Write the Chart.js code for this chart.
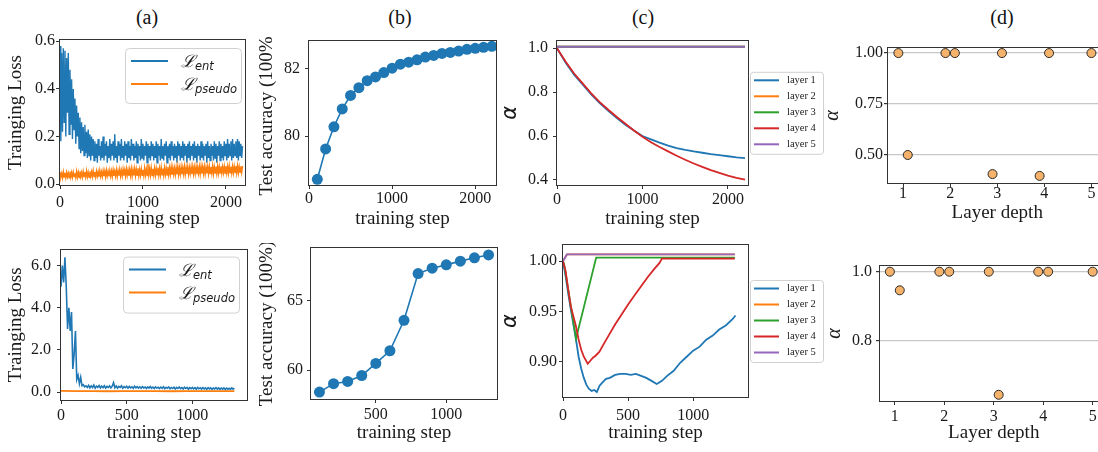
<!DOCTYPE html>
<html><head><meta charset="utf-8">
<script src="https://cdn.jsdelivr.net/npm/chart.js@4"></script>
<style>
html,body{margin:0;padding:0;background:#fff;overflow:hidden;width:1098px;height:452px;}
#wrap{position:relative;width:1098px;height:452px;overflow:hidden;background:#fff;}
.ptitle{position:absolute;font:20px "Liberation Serif",serif;color:#111;transform:translate(-50%,-50%);white-space:nowrap;}
canvas{position:absolute;}
</style></head><body><div id="wrap">
<div class="ptitle" style="left:147px;top:17px">(a)</div>
<div class="ptitle" style="left:400px;top:17px">(b)</div>
<div class="ptitle" style="left:643px;top:17px">(c)</div>
<div class="ptitle" style="left:1002px;top:17px">(d)</div>
</div>
<script>
// ===================== DATA =====================
// (a) training loss, top run: one value every lossStepTop steps
const lossStepTop = 10;
const entTop = [0.58,0.18,0.55,0.22,0.57,0.26,0.56,0.20,0.53,0.30,0.55,
0.21,0.48,0.25,0.44,0.19,0.40,0.23,0.36,0.17,0.33,0.20,0.30,0.15,0.28,0.13,
0.26,0.14,0.24,0.12,0.25,0.13,0.22,0.11,0.23,0.12,0.21,0.10,0.20,0.12,0.19,
0.10,0.18,0.11,0.17,0.09,0.19,0.12,0.16,0.10,0.18,
0.11,0.20,0.10,0.17,0.12,0.18,0.09,0.16,0.11,0.19,
0.10,0.17,0.12,0.18,0.10,0.21,0.11,0.16,0.09,0.18,
0.12,0.17,0.10,0.19,0.11,0.16,0.10,0.18,0.12,0.17,
0.09,0.18,0.11,0.16,0.10,0.19,0.12,0.17,0.10,0.16,
0.11,0.18,0.09,0.17,0.12,0.16,0.10,0.19,0.11,0.17,
0.10,0.16,0.12,0.18,0.09,0.17,0.11,0.16,0.10,0.18,
0.12,0.17,0.10,0.16,0.11,0.18,0.09,0.17,0.12,0.16,
0.10,0.19,0.11,0.16,0.10,0.17,0.12,0.18,0.09,0.16,
0.11,0.17,0.10,0.18,0.12,0.16,0.10,0.17,0.11,0.16,
0.09,0.18,0.12,0.17,0.10,0.16,0.11,0.18,0.10,0.17,
0.12,0.16,0.09,0.17,0.11,0.18,0.10,0.16,0.12,0.17,
0.10,0.18,0.11,0.16,0.09,0.17,0.12,0.16,0.10,0.18,
0.11,0.17,0.10,0.16,0.12,0.17,0.09,0.18,0.11,0.16,
0.10,0.17,0.12,0.16,0.10,0.18,0.11,0.17,0.09,0.16,
0.12,0.18,0.10,0.17,0.11,0.16,0.10,0.18,0.12,0.17,
0.10,0.19,0.11,0.17,0.12,0.18,0.10,0.19,0.11,0.17,
0.12,0.18,0.11,0.19,0.10,0.18,0.12,0.17,0.11,0.16];
const pseudoTop = [0.05,0.03,0.045,0.026,0.052,0.03,0.048,0.028,0.05,0.031,
0.047,0.027,0.053,0.03,0.049,0.029,0.051,0.032,0.046,0.028,
0.054,0.03,0.05,0.028,0.055,0.031,0.049,0.029,0.053,0.032,
0.051,0.03,0.056,0.031,0.05,0.029,0.054,0.033,0.052,0.031,
0.057,0.032,0.051,0.03,0.055,0.034,0.053,0.031,0.058,0.033,
0.052,0.032,0.057,0.034,0.055,0.031,0.059,0.035,0.054,0.033,
0.058,0.034,0.056,0.032,0.06,0.035,0.055,0.034,0.061,0.033,
0.057,0.036,0.062,0.034,0.058,0.035,0.063,0.036,0.059,0.034,
0.064,0.037,0.06,0.035,0.062,0.036,0.065,0.034,0.061,0.037,
0.066,0.036,0.063,0.038,0.067,0.035,0.062,0.037,0.065,0.038,
0.06,0.036,0.068,0.038,0.064,0.037,0.085,0.039,0.066,0.038,
0.069,0.037,0.065,0.039,0.068,0.038,0.066,0.04,0.07,0.038,
0.067,0.039,0.071,0.04,0.066,0.038,0.07,0.041,0.068,0.039,
0.072,0.04,0.069,0.041,0.073,0.039,0.07,0.042,0.068,0.04,
0.071,0.041,0.074,0.04,0.069,0.042,0.073,0.041,0.07,0.043,
0.075,0.041,0.071,0.043,0.074,0.042,0.07,0.044,0.073,0.042,
0.074,0.043,0.072,0.044,0.075,0.042,0.071,0.045,0.074,0.043,
0.076,0.044,0.073,0.045,0.075,0.043,0.072,0.046,0.074,0.044,
0.075,0.045,0.073,0.046,0.077,0.044,0.073,0.047,0.075,0.045,
0.076,0.045,0.074,0.047,0.076,0.046,0.073,0.048,0.075,0.046,
0.077,0.047,0.074,0.046,0.078,0.048,0.074,0.047,0.076,0.048,
0.075,0.049,0.077,0.047,0.078,0.048,0.074,0.05,0.076,0.049,
0.076];
// (a) training loss, bottom run
const lossStepBottom = 10;
const entBottom = [5.0,6.0,5.2,6.4,5.0,3.0,4.0,2.9,3.8,1.1,1.8,2.9,0.6,0.8,0.4,0.7,0.3,0.35,0.25,0.3,0.22,
0.32,0.2,0.3,0.22,0.33,0.19,0.28,0.23,0.31,0.2,
0.29,0.21,0.3,0.19,0.27,0.22,0.3,0.2,0.28,0.45,
0.21,0.29,0.19,0.27,0.22,0.3,0.18,0.26,0.21,0.28,
0.19,0.27,0.2,0.25,0.18,0.28,0.2,0.26,0.19,0.25,
0.18,0.26,0.2,0.24,0.17,0.25,0.19,0.26,0.18,0.24,
0.17,0.25,0.19,0.23,0.17,0.24,0.18,0.25,0.16,0.23,
0.18,0.24,0.16,0.22,0.17,0.23,0.15,0.22,0.17,0.24,
0.16,0.21,0.15,0.23,0.17,0.22,0.14,0.21,0.16,0.22,
0.15,0.21,0.14,0.22,0.16,0.2,0.14,0.21,0.15,0.2,
0.13,0.21,0.15,0.2,0.13,0.19,0.15,0.21,0.14,0.2,
0.13,0.19,0.14,0.2,0.12,0.19,0.14,0.18,0.13,0.2,
0.14,0.19];
const pseudoStepBottom = 120;
const pseudoBottom = [0.06,0.05,0.05,0.04,0.05,0.05,0.05,0.04,0.05,0.05,0.05,0.05];
const lossLegendSubs = ['ent','pseudo'];

// (b) test accuracy
const accStepsTop = [100,200,300,400,500,600,700,800,900,1000,1100,1200,1300,1400,1500,1600,1700,1800,1900,2000,2100,2200];
const accTop = [78.72,79.62,80.28,80.81,81.21,81.44,81.65,81.76,81.89,82.02,82.14,82.20,82.27,82.35,82.40,82.46,82.49,82.53,82.58,82.61,82.64,82.67];
const accStepsBottom = [100,200,300,400,500,600,700,800,900,1000,1100,1200,1300];
const accBottom = [58.41,59.02,59.18,59.61,60.48,61.40,63.60,66.98,67.37,67.61,67.88,68.12,68.33];

// (c) alpha per layer, top run
const layerNames = ['layer 1','layer 2','layer 3','layer 4','layer 5'];
const alphaStepsTop = [0,100,200,300,400,500,600,700,800,900,1000,1100,1200,1300,1400,1500,1600,1700,1800,1900,2000,2100,2200];
const alphaTopL1 = [1.0,0.935,0.88,0.835,0.79,0.75,0.715,0.682,0.652,0.625,0.60,0.585,0.57,0.556,0.545,0.537,0.53,0.524,0.518,0.513,0.508,0.503,0.499];
const alphaTopL4 = [1.0,0.94,0.885,0.84,0.795,0.755,0.72,0.687,0.656,0.625,0.597,0.572,0.55,0.53,0.51,0.492,0.475,0.46,0.445,0.432,0.42,0.41,0.402];
const alphaTopFlatSteps = [0,2200];
const alphaTopL2 = [1.007,1.007];
const alphaTopL3 = [1.007,1.007];
const alphaTopL5 = [1.007,1.007];

// (c) alpha per layer, bottom run
const alphaBotStepsL1 = [0,20,40,60,80,100,120,140,160,180,200,220,240,260,280,300,330,360,400,440,480,520,560,600,640,680,720,760,800,850,900,950,1000,1050,1100,1150,1200,1250,1300,1325];
const alphaBotL1 = [1.0,0.985,0.968,0.952,0.937,0.922,0.905,0.893,0.884,0.877,0.873,0.871,0.872,0.870,0.876,0.879,0.883,0.884,0.887,0.888,0.888,0.887,0.888,0.886,0.884,0.881,0.878,0.881,0.886,0.891,0.899,0.905,0.911,0.915,0.922,0.926,0.932,0.936,0.942,0.946];
const alphaBotStepsL2 = [0,30,1320];
const alphaBotL2 = [1.0,1.0066,1.0066];
const alphaBotStepsL3 = [0,10,100,255,1320];
const alphaBotL3 = [1.0,0.996,0.923,1.0035,1.0035];
const alphaBotStepsL4 = [0,20,40,60,80,100,120,140,160,190,210,230,250,280,310,350,400,450,500,550,600,650,700,740,760,1320];
const alphaBotL4 = [1.0,0.99,0.972,0.955,0.945,0.935,0.922,0.912,0.905,0.898,0.901,0.904,0.906,0.910,0.917,0.926,0.937,0.947,0.957,0.966,0.975,0.984,0.992,0.998,1.0025,1.0025];
const alphaBotStepsL5 = [0,30,1320];
const alphaBotL5 = [1.0,1.0066,1.0066];

// (d) final alpha versus layer depth
const depthTop = [0.9,1.1,1.9,2.1,2.9,3.1,3.9,4.1,5.0];
const alphaDepthTop = [1.0,0.498,1.0,1.0,0.404,1.0,0.395,1.0,1.0];
const depthBottom = [0.9,1.1,1.9,2.1,2.9,3.1,3.9,4.1,5.0];
const alphaDepthBottom = [1.0,0.946,1.0,1.0,1.0,0.643,1.0,1.0,1.0];

// tick values and labels
const ticksA1x = [0,1000,2000], labA1x = ['0','1000','2000'];
const ticksA1y = [0,0.2,0.4,0.6], labA1y = ['0.0','0.2','0.4','0.6'];
const ticksA2x = [0,500,1000], labA2x = ['0','500','1000'];
const ticksA2y = [0,2,4,6], labA2y = ['0.0','2.0','4.0','6.0'];
const ticksB1x = [0,1000,2000], labB1x = ['0','1000','2000'];
const ticksB1y = [80,82], labB1y = ['80','82'];
const ticksB2x = [500,1000], labB2x = ['500','1000'];
const ticksB2y = [60,65], labB2y = ['60','65'];
const ticksC1x = [0,1000,2000], labC1x = ['0','1000','2000'];
const ticksC1y = [0.4,0.6,0.8,1.0], labC1y = ['0.4','0.6','0.8','1.0'];
const ticksC2x = [0,500,1000], labC2x = ['0','500','1000'];
const ticksC2y = [0.90,0.95,1.00], labC2y = ['0.90','0.95','1.00'];
const ticksD1x = [1,2,3,4,5], labD1x = ['1','2','3','4','5'];
const ticksD1y = [0.5,0.75,1.0], labD1y = ['0.50','0.75','1.00'];
const ticksD2x = [1,2,3,4,5], labD2x = ['1','2','3','4','5'];
const ticksD2y = [0.8,1.0], labD2y = ['0.8','1.0'];

// ===================== DRAWING =====================
const SERIF = '"Liberation Serif","Times New Roman",serif';
const INK = '#1a1a1a';
const COL = ['#1f77b4','#ff7f0e','#2ca02c','#d62728','#9467bd'];
const TICKF = {family: SERIF, size: 16};
const LABF = {family: SERIF, size: 19};
const ALPHA_SANS = {family: '"DejaVu Sans",sans-serif', size: 21, style: 'italic'};
const ALPHA_SERIF = {family: SERIF, size: 20, style: 'italic'};
const wrap = document.getElementById('wrap');

const pts = (xs, ys) => ys.map((y, i) => ({x: xs[i], y}));
const stepPts = (step, ys) => ys.map((y, i) => ({x: i * step, y}));

const framePlugin = {
  id: 'frame',
  afterDatasetsDraw(chart) {
    const a = chart.chartArea, c = chart.ctx;
    c.save(); c.strokeStyle = '#333'; c.lineWidth = 1;
    c.strokeRect(Math.round(a.left) - 0.5, Math.round(a.top) - 0.5,
                 Math.round(a.right - a.left) + 1, Math.round(a.bottom - a.top) + 1);
    c.restore();
  }
};

function rrect(c, x, y, w, h, r) {
  c.beginPath();
  c.moveTo(x + r, y); c.lineTo(x + w - r, y); c.quadraticCurveTo(x + w, y, x + w, y + r);
  c.lineTo(x + w, y + h - r); c.quadraticCurveTo(x + w, y + h, x + w - r, y + h);
  c.lineTo(x + r, y + h); c.quadraticCurveTo(x, y + h, x, y + h - r);
  c.lineTo(x, y + r); c.quadraticCurveTo(x, y, x + r, y); c.closePath();
}

function lossLegend(offR, offT, w, h) {
  return { id: 'lossLegend', afterDraw(chart) {
    const a = chart.chartArea, c = chart.ctx;
    const x = a.right - offR - w, y = a.top + offT;
    c.save();
    rrect(c, x + 0.5, y + 0.5, w, h, 4);
    c.fillStyle = 'rgba(255,255,255,0.85)'; c.fill();
    c.strokeStyle = '#d0d0d0'; c.lineWidth = 1; c.stroke();
    const rows = [y + 13, y + 36];
    lossLegendSubs.forEach((sub, i) => {
      c.strokeStyle = COL[i]; c.lineWidth = 2;
      c.beginPath(); c.moveTo(x + 6, rows[i]); c.lineTo(x + 43, rows[i]); c.stroke();
      c.fillStyle = INK; c.textBaseline = 'alphabetic';
      c.font = 'italic 17px "DejaVu Serif",serif';
      c.fillText('\u2112', x + 56, rows[i] + 6);
      const lw = c.measureText('\u2112').width;
      c.font = 'italic 11.5px "DejaVu Sans",sans-serif';
      c.fillText(sub, x + 56 + lw, rows[i] + 9);
    });
    c.restore();
  }};
}

const layerLegend = { id: 'layerLegend', afterDraw(chart) {
  const a = chart.chartArea, c = chart.ctx;
  const w = 73, h = 82;
  const x = a.right + 2, y = (a.top + a.bottom) / 2 - h / 2;
  c.save();
  rrect(c, x + 0.5, y + 0.5, w, h, 3);
  c.fillStyle = '#fff'; c.fill();
  c.strokeStyle = '#d0d0d0'; c.lineWidth = 1; c.stroke();
  layerNames.forEach((n, i) => {
    const ry = y + 8.5 + i * 16;
    c.strokeStyle = COL[i]; c.lineWidth = 2;
    c.beginPath(); c.moveTo(x + 4, ry); c.lineTo(x + 29, ry); c.stroke();
    c.fillStyle = INK; c.font = '10.5px ' + SERIF; c.textBaseline = 'middle';
    c.fillText(n, x + 37, ry);
  });
  c.restore();
}};

function makeChart(p) {
  const pt = p.padTop ?? 14, pr = p.padRight ?? 10;
  const ylh = p.yTitleFont.size * 1.2;
  const cl = Math.round(p.yTitleX - ylh / 2);
  const yw = p.L - cl;
  const xlh = LABF.size * 1.2;
  const cb = Math.round(p.xTitleY + xlh / 2);
  const xh = cb - p.B;
  const W = p.R - p.L + yw + pr, H = p.B - p.T + pt + xh;
  const cv = document.createElement('canvas');
  cv.width = W; cv.height = H;
  cv.style.left = cl + 'px'; cv.style.top = (p.T - pt) + 'px';
  cv.style.width = W + 'px'; cv.style.height = H + 'px';
  if (p.clipTop) cv.style.clipPath = 'inset(' + (p.clipTop - (p.T - pt)) + 'px 0 0 0)';
  wrap.appendChild(cv);
  new Chart(cv.getContext('2d'), {
    type: p.type || 'line',
    data: { datasets: p.datasets },
    options: {
      responsive: false, animation: false, devicePixelRatio: 1,
      layout: { padding: { left: 0, top: pt, right: pr, bottom: 0 } },
      plugins: { legend: { display: false }, tooltip: { enabled: false }, title: { display: false } },
      elements: { line: { tension: 0 } },
      scales: {
        x: {
          type: 'linear', min: p.xMin, max: p.xMax,
          afterBuildTicks: s => { s.ticks = p.xTicks.map(v => ({ value: v })); },
          afterFit: s => { s.height = xh; },
          ticks: { callback: (v, i) => p.xLabels[i], font: TICKF, color: INK, padding: p.xPad, maxRotation: 0, autoSkip: false },
          grid: { drawOnChartArea: false, drawTicks: true, tickLength: 4, color: '#333', tickColor: '#333' },
          border: { display: false },
          title: { display: true, text: p.xTitle, font: LABF, color: INK, padding: 0 }
        },
        y: {
          type: 'linear', min: p.yMin, max: p.yMax,
          afterBuildTicks: s => { s.ticks = p.yTicks.map(v => ({ value: v })); },
          afterFit: s => { s.width = yw; },
          ticks: { callback: (v, i) => p.yLabels[i], font: TICKF, color: INK, padding: p.yPad, autoSkip: false },
          grid: p.grid
            ? { drawOnChartArea: true, drawTicks: true, tickLength: 4, color: '#c8c8c8', tickColor: '#333', lineWidth: 1.2 }
            : { drawOnChartArea: false, drawTicks: true, tickLength: 4, color: '#333', tickColor: '#333' },
          border: { display: false },
          title: { display: true, text: p.yTitle, font: p.yTitleFont, color: INK, padding: 0 }
        }
      }
    },
    plugins: [framePlugin].concat(p.plugins || [])
  });
}

const lineDs = (data, color, order, w) => ({ data, borderColor: color, backgroundColor: color, borderWidth: w || 1.8, pointRadius: 0, order });
const accDs = data => ({ data, borderColor: COL[0], backgroundColor: COL[0], borderWidth: 1.6, pointRadius: 5.5, pointBorderWidth: 0, pointBackgroundColor: COL[0] });
const depthDs = data => ({ data, showLine: false, pointRadius: 4.5, pointBackgroundColor: '#f5b26b', pointBorderColor: '#2a2a2a', pointBorderWidth: 1, clip: false });

// ---- (a) top
makeChart({ L: 60, T: 40, R: 245, B: 185, yTitleX: 16, xTitleY: 219, yTitle: 'Trainging Loss', yTitleFont: LABF, xTitle: 'training step',
  xMin: 0, xMax: 2230, yMin: -0.003, yMax: 0.605, xTicks: ticksA1x, xLabels: labA1x, yTicks: ticksA1y, yLabels: labA1y, xPad: 4, yPad: 1,
  datasets: [lineDs(stepPts(lossStepTop, entTop), COL[0], 1, 1.4), lineDs(stepPts(lossStepTop, pseudoTop), COL[1], 0, 1.4)],
  plugins: [lossLegend(4, 8, 116, 55)] });
// ---- (a) bottom
makeChart({ L: 61, T: 248, R: 247, B: 400, yTitleX: 16, xTitleY: 433, yTitle: 'Trainging Loss', yTitleFont: LABF, xTitle: 'training step',
  xMin: 0, xMax: 1416, yMin: -0.375, yMax: 6.76, xTicks: ticksA2x, xLabels: labA2x, yTicks: ticksA2y, yLabels: labA2y, xPad: 2, yPad: 6,
  datasets: [lineDs(stepPts(lossStepBottom, entBottom), COL[0], 1, 1.6), lineDs(stepPts(pseudoStepBottom, pseudoBottom), COL[1], 0, 1.8)],
  plugins: [lossLegend(8, 7, 116, 56)] });
// ---- (b) top
makeChart({ L: 309, T: 40, R: 496, B: 185, yTitleX: 267, xTitleY: 219, yTitle: 'Test accuracy (100%)', yTitleFont: LABF, xTitle: 'training step', clipTop: 36,
  xMin: 0, xMax: 2250, yMin: 78.55, yMax: 82.84, xTicks: ticksB1x, xLabels: labB1x, yTicks: ticksB1y, yLabels: labB1y, xPad: 0, yPad: 5,
  datasets: [accDs(pts(accStepsTop, accTop))] });
// ---- (b) bottom
makeChart({ L: 311, T: 248, R: 497, B: 399, yTitleX: 267, xTitleY: 433, yTitle: 'Test accuracy (100%)', yTitleFont: LABF, xTitle: 'training step', clipTop: 243,
  xMin: 40, xMax: 1360, yMin: 57.91, yMax: 68.83, xTicks: ticksB2x, xLabels: labB2x, yTicks: ticksB2y, yLabels: labB2y, xPad: 2, yPad: 4,
  datasets: [accDs(pts(accStepsBottom, accBottom))] });
// ---- (c) top
makeChart({ L: 557, T: 40, R: 748, B: 185, yTitleX: 511, xTitleY: 219, yTitle: '\u03b1', yTitleFont: ALPHA_SANS, xTitle: 'training step', padRight: 80,
  xMin: 0, xMax: 2235, yMin: 0.377, yMax: 1.035, xTicks: ticksC1x, xLabels: labC1x, yTicks: ticksC1y, yLabels: labC1y, xPad: 1, yPad: 5,
  datasets: [
    lineDs(pts(alphaStepsTop, alphaTopL1), COL[0], 4),
    lineDs(pts(alphaTopFlatSteps, alphaTopL2), COL[1], 3),
    lineDs(pts(alphaTopFlatSteps, alphaTopL3), COL[2], 2),
    lineDs(pts(alphaStepsTop, alphaTopL4), COL[3], 1),
    lineDs(pts(alphaTopFlatSteps, alphaTopL5), COL[4], 0)],
  plugins: [layerLegend] });
// ---- (c) bottom
makeChart({ L: 563, T: 245, R: 748, B: 397, yTitleX: 511, xTitleY: 433, yTitle: '\u03b1', yTitleFont: ALPHA_SANS, xTitle: 'training step', padRight: 80,
  xMin: 0, xMax: 1421, yMin: 0.865, yMax: 1.016, xTicks: ticksC2x, xLabels: labC2x, yTicks: ticksC2y, yLabels: labC2y, xPad: 5, yPad: 2,
  datasets: [
    lineDs(pts(alphaBotStepsL1, alphaBotL1), COL[0], 4),
    lineDs(pts(alphaBotStepsL2, alphaBotL2), COL[1], 3),
    lineDs(pts(alphaBotStepsL3, alphaBotL3), COL[2], 2),
    lineDs(pts(alphaBotStepsL4, alphaBotL4), COL[3], 1),
    lineDs(pts(alphaBotStepsL5, alphaBotL5), COL[4], 0)],
  plugins: [layerLegend] });
// ---- (d) top
makeChart({ type: 'scatter', L: 888, T: 48, R: 1107, B: 183, yTitleX: 833, xTitleY: 213, yTitle: '\u03b1', yTitleFont: ALPHA_SERIF, xTitle: 'Layer depth', padRight: 5, grid: true,
  xMin: 0.68, xMax: 5.32, yMin: 0.36, yMax: 1.025, xTicks: ticksD1x, xLabels: labD1x, yTicks: ticksD1y, yLabels: labD1y, xPad: -3, yPad: 1,
  datasets: [depthDs(pts(depthTop, alphaDepthTop))] });
// ---- (d) bottom
makeChart({ type: 'scatter', L: 880, T: 266, R: 1108, B: 401, yTitleX: 835, xTitleY: 433, yTitle: '\u03b1', yTitleFont: ALPHA_SERIF, xTitle: 'Layer depth', padRight: 5, grid: true,
  xMin: 0.7, xMax: 5.3, yMin: 0.625, yMax: 1.0165, xTicks: ticksD2x, xLabels: labD2x, yTicks: ticksD2y, yLabels: labD2y, xPad: 2, yPad: 4,
  datasets: [depthDs(pts(depthBottom, alphaDepthBottom))] });
</script></body></html>
